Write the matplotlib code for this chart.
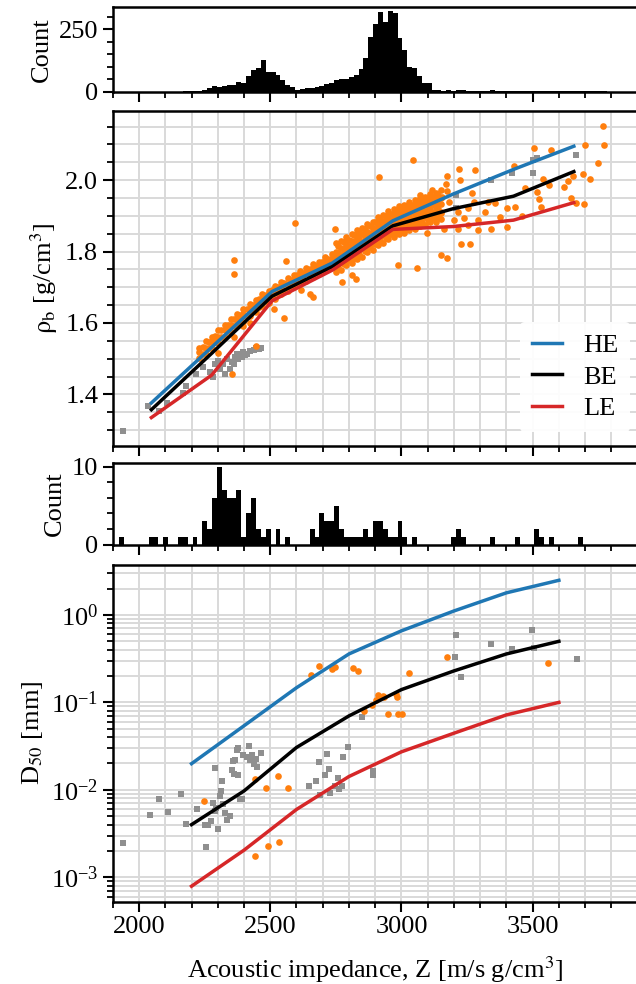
import numpy as np
import matplotlib
matplotlib.use("Agg")
import matplotlib.pyplot as plt
from matplotlib.ticker import MultipleLocator, LogLocator, NullFormatter

plt.rcParams['font.family'] = ['Liberation Serif', 'DejaVu Serif']
plt.rcParams['mathtext.fontset'] = 'stix'
plt.rcParams['font.size'] = 19
plt.rcParams['axes.linewidth'] = 1.8

# histogram bins (shared by both count panels)
bin_lo, bin_hi, n_bins = 1925, 3785, 100

# counts of the log data (top panel)
log_counts = [0, 0, 0, 0, 0, 0, 0, 0, 0, 0, 0, 0, 0, 1, 2, 2, 3, 5, 13, 22,
              20, 22, 25, 28, 38, 33, 61, 85, 96, 126, 80, 80, 68, 45, 28, 20, 5, 11, 16, 13,
              20, 24, 30, 34, 45, 49, 50, 58, 66, 91, 135, 217, 270, 317, 280, 322, 313, 215, 166, 100,
              95, 61, 33, 36, 5, 5, 3, 7, 3, 7, 7, 3, 2, 3, 2, 3, 8, 2, 2, 3,
              2, 2, 3, 2, 3, 3, 2, 2, 3, 2, 2, 3, 2, 2, 2, 1, 2, 1, 1, 2]

# counts of the core samples (third panel)
core_counts = [1, 0, 0, 0, 0, 0, 1, 1, 0, 1, 0, 0, 1, 1, 0, 1, 0, 3, 2, 6,
               10, 7, 6, 6, 7, 1, 4, 6, 2, 1, 2, 0, 2, 0, 1, 0, 0, 0, 0, 2,
               1, 4, 3, 3, 5, 2, 1, 1, 1, 1, 2, 1, 3, 3, 2, 1, 1, 3, 1, 0,
               1, 0, 0, 0, 0, 0, 0, 0, 1, 2, 1, 0, 0, 0, 0, 0, 1, 0, 0, 0,
               0, 1, 0, 0, 0, 2, 1, 0, 1, 0, 0, 0, 0, 0, 1, 0, 0, 0, 0, 0]

# density model curves
z_rho = [2047, 2277, 2507, 2737, 2967, 3197, 3427, 3657]
rho_he = [1.376, 1.532, 1.688, 1.768, 1.886, 1.961, 2.030, 2.095]
rho_be = [1.357, 1.515, 1.675, 1.758, 1.872, 1.920, 1.955, 2.024]
rho_le = [1.335, 1.454, 1.662, 1.748, 1.862, 1.870, 1.888, 1.937]

# grain size model curves
z_d50 = [2200, 2400, 2600, 2800, 3000, 3200, 3400, 3600]
d50_he = [0.0199, 0.054, 0.147, 0.358, 0.658, 1.11, 1.79, 2.49]
d50_be = [0.0040, 0.0097, 0.0305, 0.070, 0.140, 0.229, 0.358, 0.499]
d50_le = [0.00079, 0.00204, 0.00596, 0.0142, 0.0272, 0.0444, 0.0719, 0.100]

# log density points: dense band, lower part
band_x1 = [2230, 2254, 2278, 2302, 2326, 2350, 2374, 2398, 2422, 2446, 2470,
           2494, 2518, 2542, 2566, 2590, 2614, 2638, 2662, 2686, 2710, 2734]
band_y1_lo = [1.501, 1.512, 1.531, 1.543, 1.562, 1.574, 1.592, 1.603, 1.620, 1.630, 1.647,
              1.655, 1.668, 1.680, 1.690, 1.700, 1.709, 1.718, 1.729, 1.737, 1.748, 1.757]
band_y1_mid = [1.518, 1.531, 1.549, 1.562, 1.579, 1.594, 1.608, 1.624, 1.636, 1.651, 1.663,
               1.677, 1.686, 1.699, 1.708, 1.720, 1.728, 1.739, 1.747, 1.758, 1.766, 1.778]
band_y1_hi = [1.531, 1.549, 1.562, 1.580, 1.594, 1.611, 1.624, 1.640, 1.653, 1.665, 1.681,
              1.690, 1.703, 1.714, 1.726, 1.734, 1.746, 1.753, 1.765, 1.771, 1.784, 1.792]
band_x1b = [2242, 2266, 2290, 2314, 2338, 2362, 2386, 2410, 2434, 2458, 2482,
            2506, 2530, 2554, 2578, 2602, 2626, 2650, 2674, 2698, 2722, 2746]
band_y1b_lo = [1.514, 1.530, 1.546, 1.560, 1.577, 1.591, 1.607, 1.619, 1.635, 1.646, 1.661,
               1.671, 1.684, 1.693, 1.705, 1.713, 1.724, 1.732, 1.744, 1.751, 1.763, 1.770]
band_y1b_hi = [1.534, 1.547, 1.564, 1.579, 1.593, 1.611, 1.623, 1.639, 1.651, 1.666, 1.677,
               1.691, 1.700, 1.713, 1.721, 1.733, 1.740, 1.752, 1.760, 1.771, 1.779, 1.790]

# log density points: dense band, upper part
band_x2 = [2750, 2770, 2790, 2810, 2830, 2850, 2870, 2890, 2910, 2930, 2950,
           2970, 2990, 3010, 3030, 3050, 3070, 3090, 3110, 3130, 3150]
band_y2_r1 = [1.742, 1.748, 1.761, 1.768, 1.779, 1.786, 1.798, 1.805, 1.817, 1.823, 1.834,
              1.840, 1.849, 1.852, 1.861, 1.864, 1.872, 1.874, 1.882, 1.884, 1.892]
band_y2_r2 = [1.760, 1.771, 1.778, 1.790, 1.797, 1.809, 1.816, 1.827, 1.834, 1.845, 1.851,
              1.862, 1.866, 1.874, 1.878, 1.886, 1.889, 1.896, 1.899, 1.906, 1.909]
band_y2_r3 = [1.783, 1.789, 1.801, 1.808, 1.820, 1.827, 1.839, 1.845, 1.857, 1.863, 1.874,
              1.880, 1.889, 1.892, 1.901, 1.904, 1.912, 1.914, 1.922, 1.924, 1.932]
band_y2_r4 = [1.800, 1.811, 1.818, 1.830, 1.837, 1.849, 1.856, 1.867, 1.874, 1.885, 1.891,
              1.902, 1.906, 1.914, 1.918, 1.926, 1.929, 1.936, 1.939, 1.946, 1.949]
band_y2_r5 = [1.823, 1.829, 1.841, 1.848, 1.860, 1.866, 1.878, 1.884, 1.896, 1.902, 1.913,
              1.919, 1.928, 1.931, 1.940, 1.943, 1.951, 1.953, 1.961, 1.963, 1.971]
band_x2b = [2760, 2780, 2800, 2820, 2840, 2860, 2880, 2900, 2920, 2940,
            2960, 2980, 3000, 3020, 3040, 3060, 3080, 3100, 3120, 3140]
band_y2b_q1 = [1.757, 1.764, 1.775, 1.783, 1.794, 1.801, 1.813, 1.820, 1.831, 1.837,
               1.848, 1.853, 1.861, 1.865, 1.873, 1.877, 1.884, 1.887, 1.894, 1.897]
band_y2b_q2 = [1.775, 1.786, 1.793, 1.805, 1.812, 1.823, 1.831, 1.842, 1.849, 1.859,
               1.866, 1.875, 1.879, 1.887, 1.891, 1.899, 1.902, 1.909, 1.912, 1.919]
band_y2b_q3 = [1.797, 1.804, 1.815, 1.823, 1.834, 1.841, 1.853, 1.860, 1.871, 1.877,
               1.888, 1.893, 1.901, 1.905, 1.913, 1.917, 1.924, 1.927, 1.934, 1.937]
band_y2b_q4 = [1.815, 1.826, 1.833, 1.845, 1.852, 1.863, 1.871, 1.882, 1.889, 1.899,
               1.906, 1.915, 1.919, 1.927, 1.931, 1.939, 1.942, 1.949, 1.952, 1.959]

# log density points: scattered
log_z = [2593, 2360, 2360, 2560, 2745, 2916, 3045, 2987, 3058, 3149, 3175, 3097, 3175, 3220,
         3224, 3281, 3269, 3227, 3263, 3291, 3340, 3401, 3459, 3505, 3570, 3430, 3470, 3541,
         3561, 3515, 3524, 3531, 3621, 3634, 3654, 3647, 3667, 3695, 3692, 3718, 3699, 3748,
         3773, 3770, 3431, 3401, 3375, 3356, 3330, 3317, 3278, 3252, 3240, 3214, 3201, 3162,
         3214, 3252, 3291, 3181, 3175, 3155, 3168, 3117, 3071, 3065, 3130, 3149, 3097,
         2353, 2444, 2554, 2515, 2618, 2651, 2664, 2774, 2813, 2826, 2301, 2360, 2398, 2424]
log_rho = [1.881, 1.775, 1.736, 1.773, 1.863, 2.009, 2.057, 1.763, 1.755, 1.791, 1.783, 1.853,
           2.011, 2.030, 1.999, 2.027, 1.963, 1.822, 1.822, 1.859, 1.862, 1.869, 1.900, 2.090,
           2.084, 2.040, 1.978, 2.002, 1.985, 1.967, 1.948, 1.926, 1.980, 1.997, 2.011, 1.950,
           1.937, 1.933, 2.016, 2.004, 2.099, 2.049, 2.099, 2.151, 1.926, 1.921, 1.898, 1.935,
           1.940, 1.912, 1.940, 1.921, 1.893, 1.912, 1.888, 1.864, 1.864, 1.874, 1.888, 1.940,
           1.969, 1.954, 1.988, 1.973, 1.959, 1.940, 1.931, 1.912, 1.912,
           1.457, 1.535, 1.614, 1.640, 1.691, 1.681, 1.674, 1.714, 1.733, 1.724, 1.517, 1.562,
           1.591, 1.600]

# core density points
core_z = [1937, 2036, 2075, 2107, 2166, 2179, 2217, 2243, 2269, 2282, 2289, 2301, 2321, 2334,
          2347, 2353, 2366, 2373, 2379, 2386, 2398, 2405, 2411, 2424, 2437, 2444, 2457, 2463,
          2308, 2327, 2360, 2392, 2715, 2748, 3207, 3207, 3340, 3423, 3501, 3501, 3518, 3667]
core_rho = [1.298, 1.367, 1.353, 1.376, 1.405, 1.424, 1.457, 1.476, 1.462, 1.448, 1.486, 1.494,
            1.486, 1.500, 1.472, 1.491, 1.505, 1.514, 1.500, 1.514, 1.519, 1.510, 1.514, 1.522,
            1.524, 1.529, 1.526, 1.529, 1.472, 1.457, 1.486, 1.505, 1.774, 1.789, 1.959, 1.923,
            2.000, 2.021, 2.056, 2.021, 2.063, 2.071]

# grain size samples (orange)
d50_z1 = [2655, 2686, 2737, 2748, 2815, 2835, 3030, 3175, 3560, 2858, 2886, 2910, 2916, 2929,
          2935, 2948, 2978, 2983, 2988, 3004, 2903, 2246, 2441, 2483, 2529, 2568, 2441, 2492, 2533]
d50_y1 = [0.204, 0.262, 0.244, 0.251, 0.249, 0.227, 0.215, 0.334, 0.282, 0.080, 0.094, 0.120,
          0.112, 0.117, 0.115, 0.074, 0.126, 0.115, 0.074, 0.074, 0.107, 0.00745, 0.0133,
          0.01045, 0.0143, 0.01045, 0.00175, 0.00229, 0.00255]

# grain size samples (gray)
d50_z2 = [3207, 3203, 3227, 3341, 3423, 3496, 3505, 3670, 2848, 1937, 2043, 2075, 2110, 2160,
          2180, 2219, 2257, 2251, 2263, 2276, 2289, 2301, 2282, 2295, 2308, 2314, 2318, 2321,
          2327, 2334, 2347, 2353, 2360, 2366, 2373, 2379, 2386, 2392, 2379, 2357, 2398, 2411,
          2420, 2424, 2431, 2437, 2444, 2450, 2463, 2289, 2647, 2673, 2686, 2690, 2709, 2715,
          2725, 2728, 2748, 2757, 2774, 2778, 2796, 2893, 2893, 2761]
d50_y2 = [0.596, 0.334, 0.197, 0.464, 0.410, 0.681, 0.417, 0.313, 0.0675, 0.00248, 0.00516,
          0.00778, 0.0056, 0.00906, 0.00409, 0.00606, 0.00219, 0.00392, 0.00399, 0.00436, 0.01786,
          0.00355, 0.00713, 0.00623, 0.00851, 0.00973, 0.0127, 0.00681, 0.00545, 0.00456, 0.00499,
          0.0169, 0.0152, 0.0217, 0.0284, 0.0297, 0.00778, 0.00778, 0.0149, 0.0213, 0.0248, 0.0238,
          0.0316, 0.0217, 0.0248, 0.0199, 0.0228, 0.0182, 0.0264, 0.0057, 0.0111, 0.0127, 0.0208,
          0.00867, 0.0146, 0.0255, 0.0174, 0.00931, 0.0111, 0.0137, 0.0111, 0.0238, 0.0311, 0.0166,
          0.0146, 0.0102]

W, H = 636, 984
fig = plt.figure(figsize=(W / 100, H / 100), dpi=100)


def add_panel(top, bottom):
    # pixel box -> figure fractions
    left, right = 112.8, 637.6
    return fig.add_axes([left / W, 1 - bottom / H, (right - left) / W, (bottom - top) / H])


ax1 = add_panel(7, 91.5)
ax2 = add_panel(111, 446)
ax3 = add_panel(463, 544.5)
ax4 = add_panel(565, 901.5)

edges = np.linspace(bin_lo, bin_hi, n_bins + 1)
orange = '#ff7f0e'
grey = '#8f8f8f'
dot = dict(color=orange, ms=4.8, mew=0, zorder=3, ls='none', marker='o')

# top histogram
ax1.stairs(log_counts, edges, fill=True, color='black', lw=0)
ax1.yaxis.set_major_locator(MultipleLocator(250))
ax1.yaxis.set_minor_locator(MultipleLocator(50))
ax1.set_ylabel('Count')

# density panel
ax2.plot(core_z, core_rho, 's', color=grey, ms=4.3, mew=0, zorder=2)
for yy in [band_y1_lo, band_y1_mid, band_y1_hi]:
    ax2.plot(band_x1, yy, **dot)
for yy in [band_y1b_lo, band_y1b_hi]:
    ax2.plot(band_x1b, yy, **dot)
for yy in [band_y2_r1, band_y2_r2, band_y2_r3, band_y2_r4, band_y2_r5]:
    ax2.plot(band_x2, yy, **dot)
for yy in [band_y2b_q1, band_y2b_q2, band_y2b_q3, band_y2b_q4]:
    ax2.plot(band_x2b, yy, **dot)
ax2.plot(log_z, log_rho, **dot)
ax2.plot(z_rho, rho_he, color='#1f77b4', lw=2.5, label='HE', zorder=4)
ax2.plot(z_rho, rho_be, color='black', lw=2.5, label='BE', zorder=4)
ax2.plot(z_rho, rho_le, color='#d62728', lw=2.5, label='LE', zorder=4)
ax2.yaxis.set_major_locator(MultipleLocator(0.2))
ax2.yaxis.set_minor_locator(MultipleLocator(0.05))
ax2.set_ylabel(r'$\mathrm{\rho_b}$ [g/cm$^3$]')
leg = ax2.legend(loc='lower right', bbox_to_anchor=(0.986, 0.042), borderaxespad=0,
                 handlelength=1.15, labelspacing=0.3, borderpad=0.45,
                 handletextpad=0.8, fontsize=19, framealpha=0.95)
leg.get_frame().set_edgecolor('none')

# core histogram
ax3.stairs(core_counts, edges, fill=True, color='black', lw=0)
ax3.yaxis.set_major_locator(MultipleLocator(10))
ax3.yaxis.set_minor_locator(MultipleLocator(2))
ax3.set_ylabel('Count')

# grain size panel
ax4.plot(d50_z2, d50_y2, 's', color=grey, ms=4.3, mew=0, zorder=2)
ax4.plot(d50_z1, d50_y1, **dot)
ax4.plot(z_d50, d50_he, color='#1f77b4', lw=2.5, zorder=4)
ax4.plot(z_d50, d50_be, color='black', lw=2.5, zorder=4)
ax4.plot(z_d50, d50_le, color='#d62728', lw=2.5, zorder=4)
ax4.set_yscale('log')
ax4.yaxis.set_major_locator(LogLocator(base=10))
ax4.yaxis.set_minor_locator(LogLocator(base=10, subs=np.arange(2, 10)))
ax4.yaxis.set_minor_formatter(NullFormatter())
ax4.set_ylabel(r'D$_{50}$ [mm]')
ax4.set_xlabel(r'Acoustic impedance, Z [m/s g/cm$^3$]', labelpad=12)

for ax in [ax2, ax4]:
    ax.grid(True, which='both', color='#d9d9d9', lw=1.4)
    ax.set_axisbelow(True)

for ax in [ax1, ax2, ax3, ax4]:
    ax.set_xlim(1900, 3900)
    ax.xaxis.set_major_locator(MultipleLocator(500))
    ax.xaxis.set_minor_locator(MultipleLocator(100))
    ax.tick_params(which='major', length=7, width=1.5, direction='out')
    ax.tick_params(which='minor', length=4, width=1.3, direction='out')
    if ax is not ax4:
        ax.tick_params(labelbottom=False)

fig.savefig('out.png', dpi=100)
